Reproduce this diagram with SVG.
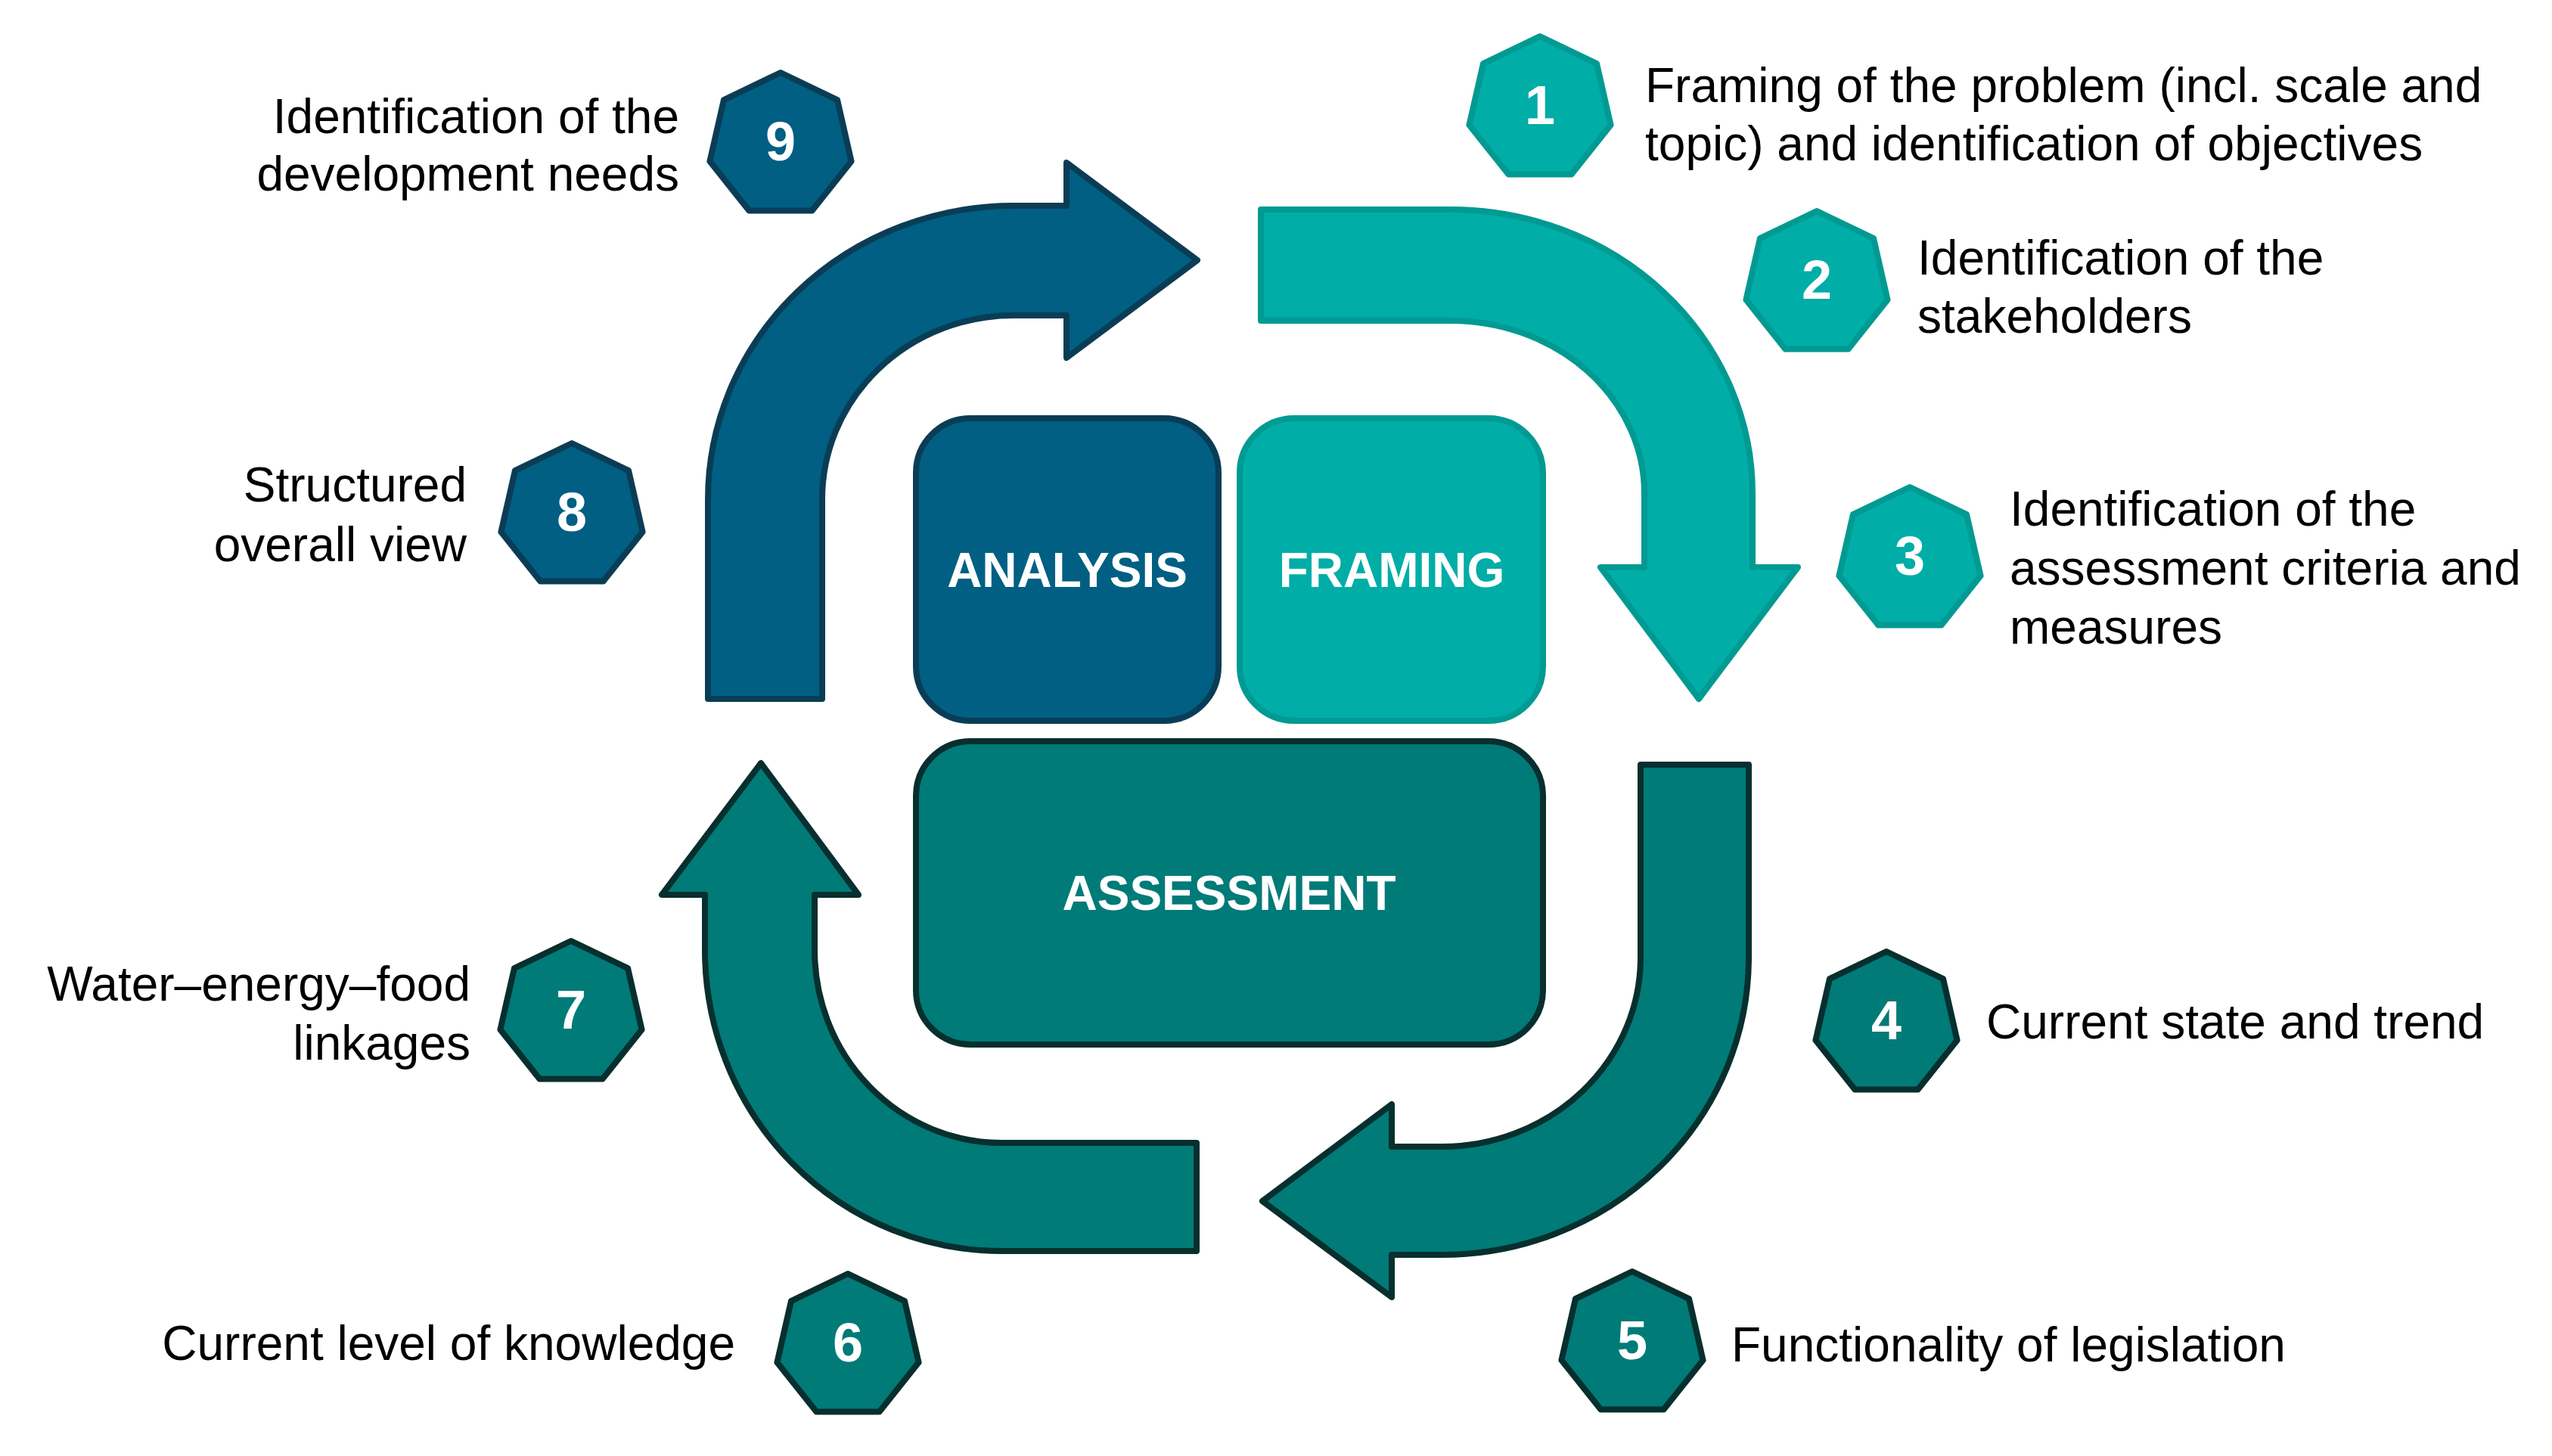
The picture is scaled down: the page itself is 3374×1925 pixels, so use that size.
<svg xmlns="http://www.w3.org/2000/svg" width="3374" height="1925" viewBox="0 0 3374 1925">
<style>
.lbl{font-family:"Liberation Sans",Arial,sans-serif;font-size:64px;fill:#000}
.r{text-anchor:end}
.num{font-family:"Liberation Sans",Arial,sans-serif;font-size:72px;font-weight:bold;fill:#fff;text-anchor:middle}
.box{font-family:"Liberation Sans",Arial,sans-serif;font-size:64px;font-weight:bold;fill:#fff;text-anchor:middle}
.blue{fill:#005F83;stroke:#0A3D55;stroke-width:8;stroke-linejoin:round}
.teal{fill:#00ADA7;stroke:#009A92;stroke-width:8;stroke-linejoin:round}
.dteal{fill:#007B78;stroke:#062F2E;stroke-width:8;stroke-linejoin:round}
</style>
<defs>
<polygon id="hep" points="0,-96 75.05,-59.86 93.59,21.36 41.65,86.5 -41.65,86.5 -93.59,21.36 -75.05,-59.86"/>
</defs>
<rect width="3374" height="1925" fill="#fff"/>
<g id="connectors">
<path class="blue" d="M936,924 L936,660 A404,388 0 0 1 1340,272 L1410,272 L1410,215 L1583,344 L1410,473 L1410,417 L1340,417 A253,243 0 0 0 1087,660 L1087,924 Z"/>
<path class="teal" d="M1667,277 L1918,277 A399,375 0 0 1 2317,652 L2317,750 L2377,750 L2246,924 L2116,750 L2174,750 L2174,652 A256,228 0 0 0 1918,424 L1667,424 Z"/>
<path class="dteal" d="M2169,1011 L2312,1011 L2312,1266 A406,393 0 0 1 1906,1659 L1840,1659 L1840,1715 L1669,1588 L1840,1460 L1840,1516 L1906,1516 A263,250 0 0 0 2169,1266 Z"/>
<path class="dteal" d="M1582,1511 L1324,1511 A247,255 0 0 1 1077,1256 L1077,1183 L1135,1183 L1006,1009 L875,1183 L932,1183 L932,1256 A392,398 0 0 0 1324,1654 L1582,1654 Z"/>
</g>
<g id="analysis">
<rect class="blue" x="1211" y="553" width="400" height="400" rx="72"/>
<text class="box" x="1411" y="776">ANALYSIS</text>
</g>
<g id="framing">
<rect class="teal" x="1639" y="553" width="401" height="400" rx="72"/>
<text class="box" x="1840" y="776">FRAMING</text>
</g>
<g id="assessment">
<rect class="dteal" x="1211" y="980" width="829" height="401" rx="72"/>
<text class="box" x="1625" y="1203">ASSESSMENT</text>
</g>
<g id="step1">
<use href="#hep" class="teal" x="2036" y="144"/>
<text class="num" x="2036" y="164">1</text>
<text class="lbl" x="2175" y="135">Framing of the problem (incl. scale and</text>
<text class="lbl" x="2175" y="212">topic) and identification of objectives</text>
</g>
<g id="step2">
<use href="#hep" class="teal" x="2402" y="375"/>
<text class="num" x="2402" y="395">2</text>
<text class="lbl" x="2535" y="363">Identification of the</text>
<text class="lbl" x="2535" y="440">stakeholders</text>
</g>
<g id="step3">
<use href="#hep" class="teal" x="2525" y="740"/>
<text class="num" x="2525" y="760">3</text>
<text class="lbl" x="2657" y="695">Identification of the</text>
<text class="lbl" x="2657" y="773">assessment criteria and</text>
<text class="lbl" x="2657" y="851">measures</text>
</g>
<g id="step4">
<use href="#hep" class="dteal" x="2494" y="1354"/>
<text class="num" x="2494" y="1374">4</text>
<text class="lbl" x="2626" y="1373">Current state and trend</text>
</g>
<g id="step5">
<use href="#hep" class="dteal" x="2158" y="1777"/>
<text class="num" x="2158" y="1797">5</text>
<text class="lbl" x="2289" y="1800">Functionality of legislation</text>
</g>
<g id="step6">
<use href="#hep" class="dteal" x="1121" y="1780"/>
<text class="num" x="1121" y="1800">6</text>
<text class="lbl r" x="972" y="1798">Current level of knowledge</text>
</g>
<g id="step7">
<use href="#hep" class="dteal" x="755" y="1340"/>
<text class="num" x="755" y="1360">7</text>
<text class="lbl r" x="622" y="1323">Water–energy–food</text>
<text class="lbl r" x="622" y="1401">linkages</text>
</g>
<g id="step8">
<use href="#hep" class="blue" x="756" y="682"/>
<text class="num" x="756" y="702">8</text>
<text class="lbl r" x="617" y="663">Structured</text>
<text class="lbl r" x="617" y="742">overall view</text>
</g>
<g id="step9">
<use href="#hep" class="blue" x="1032" y="192"/>
<text class="num" x="1032" y="212">9</text>
<text class="lbl r" x="898" y="176">Identification of the</text>
<text class="lbl r" x="898" y="252">development needs</text>
</g>
</svg>
